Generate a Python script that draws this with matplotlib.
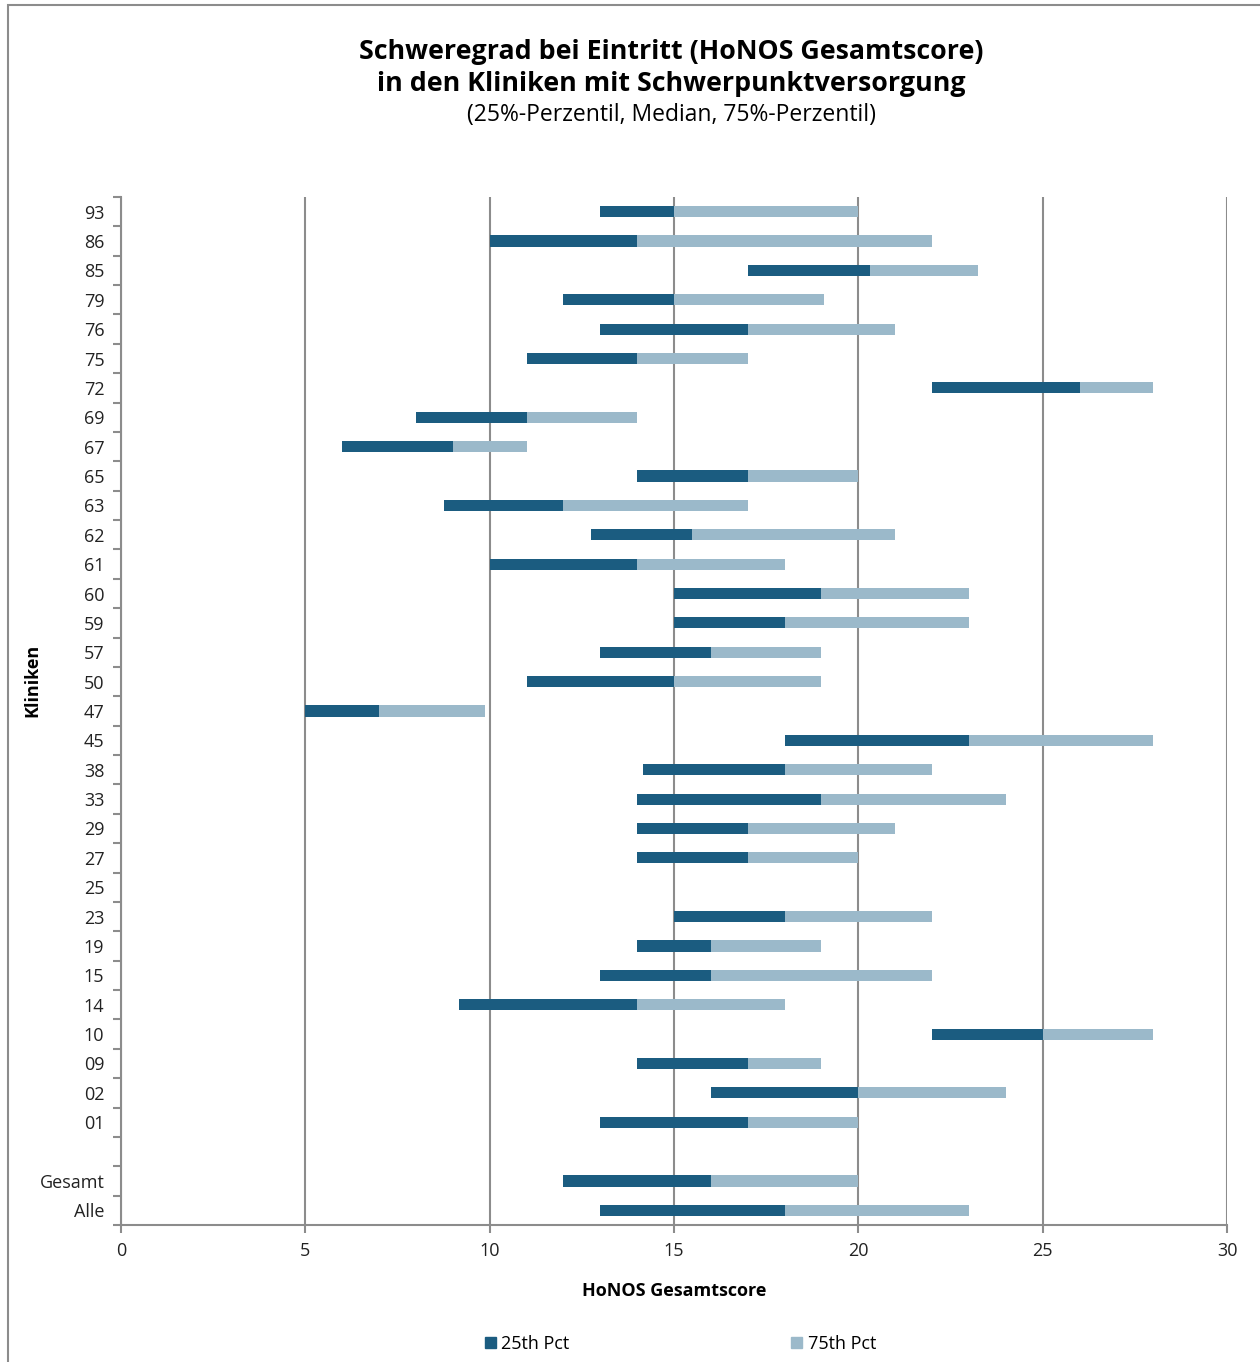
import numpy as np
import matplotlib.pyplot as plt
from matplotlib.patches import Rectangle, Patch

plt.rcParams['font.family'] = ['Open Sans', 'DejaVu Sans']

# Kliniken (von oben nach unten), '' = Leerzeile
kliniken = ['93', '86', '85', '79', '76', '75', '72', '69', '67', '65', '63', '62',
            '61', '60', '59', '57', '50', '47', '45', '38', '33', '29', '27', '25',
            '23', '19', '15', '14', '10', '09', '02', '01', '', 'Gesamt', 'Alle']

nan = np.nan
p25 = [13, 10, 17, 12, 13, 11, 22, 8, 6, 14, 8.75, 12.75,
       10, 15, 15, 13, 11, 5, 18, 14.15, 14, 14, 14, nan,
       15, 14, 13, 9.17, 22, 14, 16, 13, nan, 12, 13]
median = [15, 14, 20.33, 15, 17, 14, 26, 11, 9, 17, 12, 15.5,
          14, 19, 18, 16, 15, 7, 23, 18, 19, 17, 17, nan,
          18, 16, 16, 14, 25, 17, 20, 17, nan, 16, 18]
p75 = [20, 22, 23.25, 19.07, 21, 17, 28, 14, 11, 20, 17, 21,
       18, 23, 23, 19, 19, 9.88, 28, 22, 24, 21, 20, nan,
       22, 19, 22, 18, 28, 19, 24, 20, nan, 20, 23]

dunkel = '#1B5C80'
hell = '#9BB9CA'
grau = '#8C8C8C'

p25 = np.array(p25)
median = np.array(median)
p75 = np.array(p75)
y = np.arange(len(kliniken))

fig = plt.figure(figsize=(12.6, 13.62), dpi=100)
ax = fig.add_axes([121 / 1260, 1 - 1225 / 1362, (1227 - 121) / 1260, (1225 - 197) / 1362])

# Rahmen um das Diagramm (oben und links sichtbar)
fig.patches.append(Rectangle((8 / 1260, -0.1), 1.2, 1 - 5 / 1362 + 0.1,
                             transform=fig.transFigure, fill=False,
                             edgecolor='#8C8C8C', linewidth=1.5))

ax.barh(y, median - p25, left=p25, height=0.38, color=dunkel, zorder=3)
ax.barh(y, p75 - median, left=median, height=0.38, color=hell, zorder=3)

ax.set_xlim(0, 30)
ax.set_ylim(len(kliniken) - 0.5, -0.5)
ax.set_xticks(range(0, 31, 5))
ax.xaxis.grid(True, color=grau, linewidth=1.5, zorder=0)
ax.set_axisbelow(True)

ax.set_yticks(y)
ax.set_yticklabels(kliniken)
ax.set_yticks(np.arange(-0.5, len(kliniken), 1), minor=True)
ax.tick_params(axis='y', which='major', length=0, pad=12, labelsize=13, colors='#222222')
ax.tick_params(axis='y', which='minor', length=6, width=1.5, color=grau)
ax.tick_params(axis='x', length=6, width=1.5, color=grau, labelsize=13, labelcolor='#222222', pad=6)

for s in ['top', 'right']:
    ax.spines[s].set_visible(False)
for s in ['left', 'bottom']:
    ax.spines[s].set_color(grau)
    ax.spines[s].set_linewidth(1.5)

ax.set_xlabel('HoNOS Gesamtscore', fontsize=13, fontweight='bold', labelpad=16)
fig.text(32 / 1260, 1 - 680 / 1362, 'Kliniken', rotation=90, fontsize=13,
         fontweight='bold', ha='center', va='center')

fig.text(0.533, 1 - 52 / 1362, 'Schweregrad bei Eintritt (HoNOS Gesamtscore)',
         fontsize=19.3, fontweight='bold', ha='center', va='center')
fig.text(0.533, 1 - 84 / 1362, 'in den Kliniken mit Schwerpunktversorgung',
         fontsize=19.3, fontweight='bold', ha='center', va='center')
fig.text(0.533, 1 - 115 / 1362, '(25%-Perzentil, Median, 75%-Perzentil)',
         fontsize=16.5, ha='center', va='center')

handles = [Patch(color=dunkel, label='25th Pct'), Patch(color=hell, label='75th Pct')]
fig.legend(handles=handles, loc='center', bbox_to_anchor=(0.54, 1 - 1344 / 1362),
           ncol=2, frameon=False, fontsize=13, handlelength=0.6, handleheight=0.6,
           handletextpad=0.3, columnspacing=12.3)

fig.savefig('out.png', dpi=100)
